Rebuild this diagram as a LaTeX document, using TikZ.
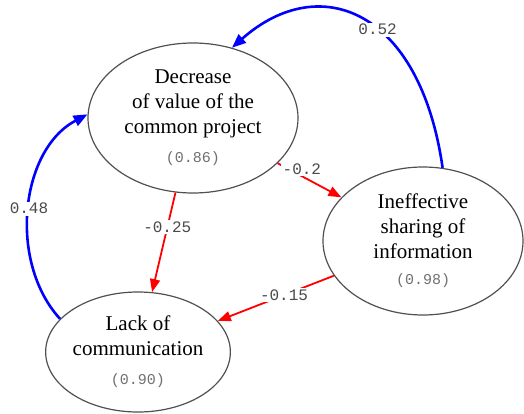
\documentclass[tikz,border=0pt]{standalone}
\usepackage{fontspec}
\setmainfont{Liberation Serif}
\setmonofont{Liberation Mono}
\usetikzlibrary{shapes,arrows.meta}

\definecolor{framegray}{HTML}{505050}
\definecolor{numgray}{HTML}{707070}
\definecolor{labgray}{HTML}{4A4A4A}

\newcommand{\numtext}[1]{{\fontsize{15}{16}\ttfamily\color{numgray}#1}}

\begin{document}
\begin{tikzpicture}[x=1pt, y=-1pt,
  factor/.style={draw=framegray, line width=1.2pt, ellipse, inner sep=0pt, align=center,
    font=\fontsize{21}{25}\selectfont},
  posedge/.style={draw=blue, line width=2.6pt, -{Triangle[length=14pt, width=11pt]}},
  negedge/.style={draw=red, line width=1.8pt, -{Triangle[length=13pt, width=10pt]}},
  weight/.style={fill=white, inner sep=1.5pt, text=labgray, font=\fontsize{16}{18}\ttfamily}]
\useasboundingbox (0,0) rectangle (524,414);

% Factors
\node[factor, minimum width=210pt, minimum height=150pt] (decr) at (193,118)
  {Decrease\\of value of the\\common project\\[4pt]\numtext{(0.86)}};
\node[factor, minimum width=200pt, minimum height=148pt] (ineff) at (423,241)
  {Ineffective\\sharing of\\information\\[1pt]\numtext{(0.98)}};
\node[factor, minimum width=174pt, minimum height=120pt] (lack) at (138,352)
  {Lack of\\communication\\[4pt]\numtext{(0.90)}};

% Positive influences
\draw[posedge] (ineff.75) .. controls (420,10) and (320,-30) .. (decr.61)
  node[weight, pos=0.43] {0.52};
\draw[posedge] (lack.157) .. controls (8,262) and (20,150) .. (decr.178)
  node[weight, pos=0.5] {0.48};

% Negative influences
\draw[negedge] (decr) -- (lack) node[weight, pos=0.35] {-0.25};
\draw[negedge] (decr) -- (ineff) node[weight, pos=0.38, yshift=7pt] {-0.2};
\draw[negedge] (ineff) -- (lack) node[weight, pos=0.43] {-0.15};
\end{tikzpicture}
\end{document}
